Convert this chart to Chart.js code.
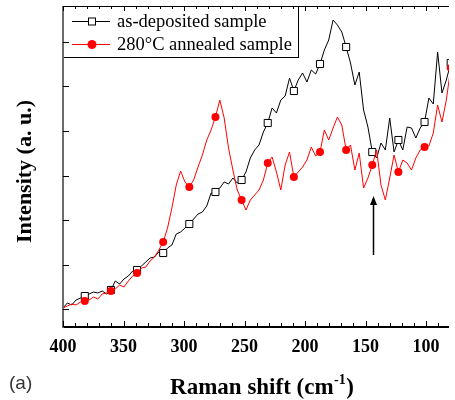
<!DOCTYPE html>
<html>
<head>
<meta charset="utf-8">
<script src="https://cdn.jsdelivr.net/npm/chart.js@4"></script>
<style>
html, body { margin: 0; padding: 0; background: #fff; }
</style>
</head>
<body>
<canvas id="raman" width="455" height="400"></canvas>
<script>
// Raman shift (cm-1), one marker every 6th point
var shift = [
  400.0,396.4,392.8,389.2,385.6,382.0,378.4,374.8,371.2,367.6,
  364.0,360.4,356.8,353.2,349.6,346.0,342.4,338.8,335.2,331.6,
  328.0,324.4,320.8,317.2,313.6,310.0,306.4,302.8,299.2,295.6,
  292.0,288.4,284.8,281.2,277.6,274.0,270.4,266.8,263.2,259.6,
  256.0,252.4,248.8,245.2,241.6,238.0,234.4,230.8,227.2,223.6,
  220.0,216.4,212.8,209.2,205.6,202.0,198.4,194.8,191.2,187.6,
  184.0,180.4,176.8,173.2,169.6,166.0,162.4,158.8,155.2,151.6,
  148.0,144.4,140.8,137.2,133.6,130.0,126.4,122.8,119.2,115.6,
  112.0,108.4,104.8,101.2,97.6,94.0,90.4,86.8,83.2,79.6
];
var asDeposited = [
  1,6,4,9,11,13,15,17,16,18,
  15,19,28,25,30,33,38,39,43,47,
  51,52,57,56,61,64,75,77,81,85,
  90,95,97,103,116,117,121,127,125,131,
  126,129,137,151,159,164,177,186,201,196,
  209,213,231,218,229,236,227,239,235,245,
  259,269,289,284,277,262,246,224,237,199,
  182,157,151,166,159,191,157,169,159,182,
  181,171,181,187,211,205,257,216,229,246
];
var annealed = [
  1,3,5,4,7,8,9,12,10,15,
  16,18,20,24,22,28,33,36,41,42,
  48,52,59,67,81,101,124,138,127,122,
  129,142,154,169,179,192,209,191,161,139,
  119,109,99,109,114,119,129,146,152,137,
  119,144,157,132,137,142,149,162,153,157,
  179,169,181,192,184,159,164,139,156,121,
  131,144,159,124,109,131,154,137,149,146,
  139,151,159,162,163,176,204,187,209,241
];
var seriesNames = ['as-deposited sample', '280\u00B0C annealed sample'];
var xLabels = [400, 350, 300, 250, 200, 150, 100];
var yTicks = [0, 44.5, 89, 133.5, 178, 222.5, 267];
var arrowShift = 143.7, arrowFrom = 54, arrowTo = 113;

function pts(ys) {
  return shift.map(function (x, i) { return { x: x, y: ys[i] }; });
}
function markerEvery(r) {
  return function (ctx) { return ctx.dataIndex % 6 === 5 ? r : 0; };
}

var serif = '"Liberation Serif", "Times New Roman", serif';

var decor = {
  id: 'decor',
  afterDraw: function (chart) {
    var c = chart.ctx, a = chart.chartArea;
    var xs = chart.scales.x, ys = chart.scales.y;
    c.save();

    // legend box
    c.fillStyle = '#fff';
    c.fillRect(a.left, a.top, 235, 51);
    c.strokeStyle = '#000';
    c.lineWidth = 1;
    c.strokeRect(a.left + 0.5, a.top + 0.5, 235, 51);
    var order = [1, 0];
    order.forEach(function (di, row) {
      var ds = chart.data.datasets[di];
      var ly = a.top + 15 + row * 23;
      c.strokeStyle = ds.borderColor;
      c.lineWidth = 1;
      c.beginPath(); c.moveTo(72, ly + 0.5); c.lineTo(110, ly + 0.5); c.stroke();
      if (ds.pointStyle === 'rect') {
        c.fillStyle = '#fff';
        c.fillRect(88.5, ly - 3, 7, 7);
        c.strokeStyle = '#000';
        c.strokeRect(88.5, ly - 3, 7, 7);
      } else {
        c.fillStyle = ds.backgroundColor;
        c.beginPath(); c.arc(92, ly + 0.5, 4.5, 0, Math.PI * 2); c.fill();
      }
      c.fillStyle = '#000';
      c.font = '18.5px ' + serif;
      c.textAlign = 'left';
      c.textBaseline = 'middle';
      c.fillText(ds.label, 117, ly + 1);
    });

    // frame
    c.strokeStyle = '#000';
    c.lineWidth = 1;
    c.beginPath(); c.moveTo(a.left, a.top + 0.5); c.lineTo(a.right, a.top + 0.5); c.stroke();
    c.lineWidth = 2;
    c.beginPath(); c.moveTo(a.left, a.bottom); c.lineTo(a.right, a.bottom); c.stroke();
    c.strokeStyle = '#6b6b6b';
    c.beginPath(); c.moveTo(a.left, a.top); c.lineTo(a.left, a.bottom + 1); c.stroke();

    // x ticks, inward, top and bottom
    c.strokeStyle = '#000';
    c.lineWidth = 1;
    for (var v = 90; v <= 400; v += 10) {
      var px = Math.round(xs.getPixelForValue(v)) + 0.5;
      var len = v % 50 === 0 ? 6 : 4;
      c.beginPath();
      c.moveTo(px, a.bottom); c.lineTo(px, a.bottom - len);
      c.moveTo(px, a.top); c.lineTo(px, a.top + len - 1);
      c.stroke();
    }
    // y ticks
    yTicks.forEach(function (t) {
      var py = Math.round(ys.getPixelForValue(t)) + 0.5;
      c.beginPath(); c.moveTo(a.left, py); c.lineTo(a.left + 6, py); c.stroke();
    });

    // x tick labels
    c.fillStyle = '#000';
    c.font = 'bold 18px ' + serif;
    c.textAlign = 'center';
    c.textBaseline = 'alphabetic';
    xLabels.forEach(function (v) {
      c.fillText(String(v), xs.getPixelForValue(v), 352);
    });

    // x title with superscript
    var main = 'Raman shift (cm', sup = '-1', close = ')';
    c.font = 'bold 23px ' + serif;
    var w1 = c.measureText(main).width, w3 = c.measureText(close).width;
    c.font = 'bold 14px ' + serif;
    var w2 = c.measureText(sup).width;
    var sx = 261.5 - (w1 + w2 + w3) / 2;
    c.textAlign = 'left';
    c.font = 'bold 23px ' + serif;
    c.fillText(main, sx, 394);
    c.fillText(close, sx + w1 + w2 + 1, 394);
    c.font = 'bold 14px ' + serif;
    c.fillText(sup, sx + w1 + 0.5, 384);

    // y title
    c.save();
    c.translate(31, 171.5);
    c.rotate(-Math.PI / 2);
    c.font = 'bold 22px ' + serif;
    c.textAlign = 'center';
    c.fillText('Intensity (a. u.)', 0, 0);
    c.restore();

    // arrow
    var ax = Math.round(xs.getPixelForValue(arrowShift)) + 0.5;
    var y1 = ys.getPixelForValue(arrowFrom), y2 = ys.getPixelForValue(arrowTo);
    c.strokeStyle = '#000';
    c.lineWidth = 1.5;
    c.beginPath(); c.moveTo(ax, y1); c.lineTo(ax, y2 + 6); c.stroke();
    c.fillStyle = '#000';
    c.beginPath(); c.moveTo(ax, y2); c.lineTo(ax - 3.5, y2 + 9); c.lineTo(ax + 3.5, y2 + 9); c.closePath(); c.fill();

    // panel label
    c.fillStyle = '#333';
    c.font = '19px "Liberation Sans", Arial, sans-serif';
    c.textAlign = 'left';
    c.fillText('(a)', 9, 389);
    c.restore();
  }
};

new Chart(document.getElementById('raman'), {
  type: 'line',
  data: {
    datasets: [
      {
        label: seriesNames[1],
        data: pts(annealed),
        borderColor: '#ff0000',
        backgroundColor: '#ff0000',
        borderWidth: 1,
        pointStyle: 'circle',
        pointRadius: markerEvery(4),
        pointBorderWidth: 0,
        pointBackgroundColor: '#ff0000'
      },
      {
        label: seriesNames[0],
        data: pts(asDeposited),
        borderColor: '#000000',
        backgroundColor: '#ffffff',
        borderWidth: 1,
        pointStyle: 'rect',
        pointRadius: markerEvery(5),
        pointBorderWidth: 1,
        pointBorderColor: '#000000',
        pointBackgroundColor: '#ffffff'
      }
    ]
  },
  options: {
    responsive: false,
    animation: false,
    devicePixelRatio: 1,
    layout: { padding: { left: 63, top: 6, right: 0, bottom: 73 } },
    plugins: { legend: { display: false }, tooltip: { enabled: false } },
    elements: { line: { tension: 0 } },
    scales: {
      x: { type: 'linear', reverse: true, min: 81, max: 400, display: false },
      y: { type: 'linear', min: -18, max: 303, display: false }
    }
  },
  plugins: [decor]
});
</script>
</body>
</html>
